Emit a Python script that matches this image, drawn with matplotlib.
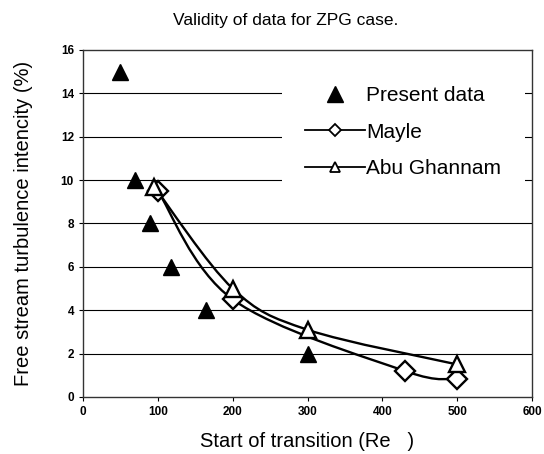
import numpy as np
import matplotlib.pyplot as plt
from matplotlib.path import Path
from matplotlib.patches import PathPatch, Rectangle
from matplotlib.lines import Line2D

plt.rcParams['font.family'] = ['Liberation Sans', 'DejaVu Sans']

# data
present_x = [50, 70, 90, 117, 165, 300]
present_y = [15, 10, 8, 6, 4, 2]
mayle_x = [100, 200, 430, 500]
mayle_y = [9.5, 4.5, 1.2, 0.85]
abu_x = [95, 200, 300, 500]
abu_y = [9.7, 5.0, 3.1, 1.5]


def smooth_path(x, y):
    # excel-like smoothed line: catmull-rom segments as cubic beziers
    pts = np.column_stack([x, y]).astype(float)
    verts = [pts[0]]
    codes = [Path.MOVETO]
    n = len(pts)
    for i in range(n - 1):
        p0 = pts[i - 1] if i > 0 else pts[i]
        p1 = pts[i]
        p2 = pts[i + 1]
        p3 = pts[i + 2] if i + 2 < n else pts[i + 1]
        c1 = p1 + (p2 - p0) / 6.0
        c2 = p2 - (p3 - p1) / 6.0
        verts += [c1, c2, p2]
        codes += [Path.CURVE4] * 3
    return Path(verts, codes)


fig = plt.figure(figsize=(5.44, 4.54), dpi=100)
ax = fig.add_axes([0.1526, 0.1256, 0.8254, 0.7643])

for yy in range(2, 16, 2):
    ax.axhline(yy, color='black', lw=0.8, zorder=1)

# white box behind the legend hides part of the gridlines
ax.add_patch(Rectangle((0.443, 0.57), 0.541, 0.345, transform=ax.transAxes,
                       facecolor='white', edgecolor='none', zorder=2))

ax.add_patch(PathPatch(smooth_path(mayle_x, mayle_y), fill=False, color='black', lw=1.7, zorder=3))
ax.add_patch(PathPatch(smooth_path(abu_x, abu_y), fill=False, color='black', lw=1.7, zorder=3))
ax.plot(mayle_x, mayle_y, ls='none', marker='D', ms=10, mfc='white', mec='black', mew=1.7, zorder=4)
ax.plot(abu_x, abu_y, ls='none', marker='^', ms=11, mfc='white', mec='black', mew=1.7, zorder=4)
ax.plot(present_x, present_y, ls='none', marker='^', ms=11, color='black', zorder=5)

ax.set_xlim(0, 600)
ax.set_ylim(0, 16)
ax.set_xticks(range(0, 601, 100))
ax.set_yticks(range(0, 17, 2))
ax.tick_params(labelsize=8.5, length=3, width=0.8, direction='out')
for lab in ax.get_xticklabels() + ax.get_yticklabels():
    lab.set_fontweight('bold')
for s in ax.spines.values():
    s.set_linewidth(1.0)
    s.set_color('#333333')

fig.text(286 / 544, 1 - 20 / 454, 'Validity of data for ZPG case.', fontsize=12.5,
         ha='center', va='center')
ax.set_xlabel('Start of transition (Re   )', fontsize=14.5, labelpad=10)
ax.set_ylabel('Free stream turbulence intencity (%)', fontsize=14.5, labelpad=20)

handles = [
    Line2D([], [], ls='none', marker='^', ms=11, color='black'),
    Line2D([], [], color='black', lw=1.3, marker='D', ms=6, mfc='white', mec='black', mew=1.3),
    Line2D([], [], color='black', lw=1.3, marker='^', ms=7, mfc='white', mec='black', mew=1.3),
]
leg = ax.legend(handles, ['Present data', 'Mayle', 'Abu Ghannam'], loc='upper left',
                bbox_to_anchor=(0.494, 0.896), frameon=False, fontsize=15,
                handlelength=2.9, handletextpad=0.05, labelspacing=0.85,
                borderpad=0, borderaxespad=0)
leg.set_zorder(6)

fig.savefig('out.png', dpi=100)
